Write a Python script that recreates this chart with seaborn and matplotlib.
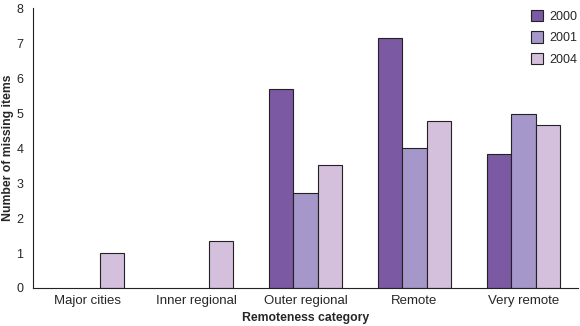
import numpy as np
import pandas as pd
import matplotlib
matplotlib.use("Agg")
import matplotlib.pyplot as plt
import seaborn as sns

categories = ["Major cities", "Inner regional", "Outer regional", "Remote", "Very remote"]
years = ["2000", "2001", "2004"]
v2000 = [np.nan, np.nan, 5.68, 7.14, 3.83]
v2001 = [np.nan, np.nan, 2.72, 4.0, 4.97]
v2004 = [1.0, 1.34, 3.51, 4.78, 4.66]
colors = ["#7b59a3", "#a597c9", "#d4bfdc"]

rows = []
for yr, vals in zip(years, [v2000, v2001, v2004]):
    for c, v in zip(categories, vals):
        rows.append({"Remoteness category": c, "Year": yr, "Value": v})
df = pd.DataFrame(rows)

sns.set_style("white")
plt.rcParams["font.family"] = ["Liberation Sans", "DejaVu Sans"]

fig = plt.figure(figsize=(5.8, 3.26), dpi=100)
ax = fig.add_axes([0.057, 0.1166, 0.9396, 0.8584])
sns.barplot(data=df, x="Remoteness category", y="Value", hue="Year",
            order=categories, hue_order=years, palette=colors,
            width=0.67, edgecolor="#222222", linewidth=0.8, saturation=1,
            ax=ax, errorbar=None)

ax.set_xlim(-0.5, 4.5)
ax.set_ylim(0, 8)
ax.set_yticks(range(0, 9))
ax.set_xticks(range(5))
ax.set_xticklabels(categories, fontsize=9.5)
ax.set_xticks(np.arange(-0.5, 5, 1), minor=True)
ax.tick_params(axis="x", which="major", length=0, pad=5)
ax.tick_params(axis="x", which="minor", length=5, width=0.8, color="#222222", direction="out")
ax.tick_params(axis="y", length=5, width=0.8, color="#222222", direction="out", labelsize=9, pad=2)
ax.set_xlabel("Remoteness category", fontsize=8.8, fontweight="bold", labelpad=4)
ax.set_ylabel("Number of missing items", fontsize=8.8, fontweight="bold")
ax.yaxis.set_label_coords(-0.035, 0.5)
for s in ["top", "right"]:
    ax.spines[s].set_visible(False)
for s in ["left", "bottom"]:
    ax.spines[s].set_color("#222222")
    ax.spines[s].set_linewidth(0.8)

leg = ax.legend(loc="upper right", frameon=False, fontsize=9, handlelength=1.0,
                handleheight=1.0, handletextpad=0.5, labelspacing=0.7,
                bbox_to_anchor=(1.008, 1.012), borderaxespad=0)

fig.savefig("out.png", dpi=100)
